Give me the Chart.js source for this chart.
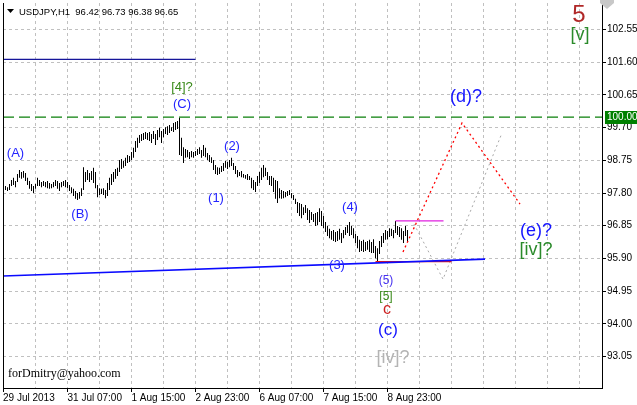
<!DOCTYPE html>
<html lang="pt-BR">
<head>
<meta charset="utf-8">
<title>USDJPY H1</title>
<script src="https://cdn.jsdelivr.net/npm/chart.js@4.4.1/dist/chart.umd.min.js"></script>
<style>
  html, body { margin: 0; padding: 0; background: #fff; }
  canvas { display: block; }
</style>
</head>
<body>
<canvas id="grafico" width="637" height="405"></canvas>
<script>
/* ============================================================
DADOS — USDJPY, H1 (uma barra por hora)
============================================================ */

const maximas = [
  98.00, 97.97, 98.06, 98.18, 98.24, 98.15, 98.35, 98.47, 98.41, 98.44,
  98.38, 98.24, 98.15, 98.06, 98.00, 98.06, 98.24, 98.18, 98.12, 98.15,
  98.12, 98.15, 98.09, 98.06, 98.12, 98.18, 98.15, 98.09, 98.12, 98.15,
  98.18, 98.12, 98.03, 97.97, 97.92, 97.86, 97.80, 97.83, 97.94, 98.55,
  98.41, 98.47, 98.38, 98.44, 98.53, 98.41, 98.03, 97.94, 97.92, 97.94,
  97.89, 98.09, 98.24, 98.35, 98.41, 98.50, 98.53, 98.76, 98.79, 98.73,
  98.82, 98.90, 98.87, 98.99, 99.11, 99.31, 99.40, 99.48, 99.51, 99.54,
  99.57, 99.54, 99.57, 99.51, 99.60, 99.51, 99.63, 99.69, 99.60, 99.66,
  99.71, 99.74, 99.77, 99.71, 99.83, 99.86, 99.89, 99.98, 99.40, 99.13,
  99.08, 99.05, 98.99, 99.02, 98.99, 99.02, 99.08, 99.13, 99.05, 99.19,
  99.11, 98.96, 98.90, 98.84, 98.76, 98.61, 98.55, 98.53, 98.58, 98.67,
  98.73, 98.70, 98.76, 98.82, 98.67, 98.58, 98.47, 98.41, 98.44, 98.35,
  98.32, 98.35, 98.29, 98.24, 98.18, 98.12, 98.29, 98.41, 98.53, 98.61,
  98.53, 98.41, 98.29, 98.29, 98.24, 98.18, 98.15, 97.94, 97.89, 97.86,
  97.83, 97.86, 97.89, 97.80, 97.74, 97.63, 97.54, 97.51, 97.48, 97.39,
  97.45, 97.36, 97.31, 97.25, 97.19, 97.22, 97.25, 97.36, 97.28, 97.13,
  96.96, 96.84, 96.76, 96.70, 96.73, 96.67, 96.70, 96.76, 96.64, 96.73,
  96.81, 96.87, 96.96, 96.84, 96.78, 96.61, 96.55, 96.44, 96.41, 96.44,
  96.38, 96.41, 96.44, 96.38, 96.46, 96.26, 96.20, 96.41, 96.55, 96.64,
  96.73, 96.70, 96.78, 96.76, 96.73, 96.99, 96.84, 96.81, 96.78, 96.70,
  96.84, 96.73
];

const minimas = [
  97.89, 97.86, 97.89, 98.00, 98.03, 97.97, 98.12, 98.24, 98.21, 98.24,
  98.15, 98.03, 97.92, 97.86, 97.80, 97.92, 98.00, 98.00, 97.97, 98.00,
  97.97, 97.94, 97.92, 97.94, 97.97, 98.00, 97.92, 97.86, 97.97, 98.00,
  97.97, 97.94, 97.86, 97.80, 97.71, 97.63, 97.60, 97.63, 97.71, 97.89,
  98.12, 98.18, 98.12, 98.18, 98.09, 97.94, 97.68, 97.74, 97.77, 97.74,
  97.65, 97.71, 97.89, 98.03, 98.12, 98.21, 98.29, 98.41, 98.50, 98.53,
  98.58, 98.67, 98.70, 98.76, 98.82, 98.99, 99.11, 99.25, 99.31, 99.34,
  99.37, 99.34, 99.31, 99.25, 99.37, 99.19, 99.34, 99.42, 99.25, 99.42,
  99.51, 99.48, 99.54, 99.60, 99.57, 99.63, 99.66, 98.90, 98.87, 98.67,
  98.82, 98.84, 98.79, 98.84, 98.82, 98.87, 98.90, 98.93, 98.82, 98.87,
  98.84, 98.76, 98.70, 98.67, 98.47, 98.35, 98.32, 98.35, 98.41, 98.44,
  98.53, 98.50, 98.55, 98.58, 98.47, 98.35, 98.26, 98.29, 98.26, 98.24,
  98.21, 98.18, 98.18, 97.94, 97.89, 97.83, 98.00, 98.09, 98.18, 98.26,
  98.29, 98.18, 98.03, 98.00, 97.83, 97.63, 97.51, 97.65, 97.63, 97.65,
  97.68, 97.71, 97.74, 97.65, 97.60, 97.48, 97.22, 97.13, 97.07, 97.16,
  97.22, 97.02, 96.93, 97.02, 96.96, 96.84, 96.87, 96.96, 96.84, 96.78,
  96.67, 96.55, 96.49, 96.44, 96.41, 96.38, 96.41, 96.44, 96.35, 96.49,
  96.58, 96.64, 96.55, 96.58, 96.49, 96.35, 96.20, 96.09, 96.12, 96.09,
  96.12, 96.15, 96.09, 96.06, 96.06, 95.91, 95.80, 96.03, 96.23, 96.35,
  96.44, 96.46, 96.52, 96.55, 96.49, 96.64, 96.58, 96.52, 96.44, 96.35,
  96.55, 96.38
];

const barras = maximas.map((_, k) => k + 1);

const precosEixo = [102.55, 101.60, 100.65, 99.70, 98.75, 97.80, 96.85, 95.90, 94.95, 94.00, 93.05];
const gradeTempo = [-0.25, 16, 32, 48, 64, 80, 96, 112, 128, 144, 160, 176, 192, 208, 224, 240, 256, 272, 288];
const posRotulosTempo = [-0.25, 32, 64, 96, 128, 160, 192];
const rotulosTempo = ["29 Jul 2013", "31 Jul 07:00", "1 Aug 15:00", "2 Aug 23:00", "6 Aug 07:00", "7 Aug 15:00", "8 Aug 23:00"];

const cabecalho = "USDJPY,H1  96.42 96.73 96.38 96.65";
const assinatura = "forDmitry@yahoo.com";

/* linhas desenhadas no gráfico (barra, preço) */
const nivel100X = [-0.25, 299.25];
const nivel100Y = [100.00, 100.00];
const resistenciaX = [-0.25, 96];
const resistenciaY = [101.68, 101.68];
const suporteX = [-0.25, 240.75];
const suporteY = [95.39, 95.88];
const minimoX = [186, 224];
const minimoY = [95.81, 95.81];
const maximoX = [196, 220];
const maximoY = [96.99, 96.99];
const cenarioVermelhoX = [199.75, 229.25, 258.25];
const cenarioVermelhoY = [96.09, 99.83, 97.48];
const cenarioCinzaX = [205.25, 219.75, 249.25];
const cenarioCinzaY = [96.90, 95.30, 99.54];

/* marcação das ondas */
const rotulos = [
  { texto: "(A)", barra: 6, preco: 98.96, tipo: "onda" },
  { texto: "(B)", barra: 38.25, preco: 97.19, tipo: "onda" },
  { texto: "(C)", barra: 89.25, preco: 100.38, tipo: "onda" },
  { texto: "[4]?", barra: 89.25, preco: 100.85, tipo: "verde" },
  { texto: "(1)", barra: 106.25, preco: 97.65, tipo: "onda" },
  { texto: "(2)", barra: 114.25, preco: 99.16, tipo: "onda" },
  { texto: "(3)", barra: 166.75, preco: 95.71, tipo: "onda" },
  { texto: "(4)", barra: 173.25, preco: 97.39, tipo: "onda" },
  { texto: "(5)", barra: 191.25, preco: 95.25, tipo: "ondaMenor" },
  { texto: "[5]", barra: 191.25, preco: 94.78, tipo: "verdeMenor" },
  { texto: "c", barra: 191.75, preco: 94.42, tipo: "vermelho" },
  { texto: "(c)", barra: 192.25, preco: 93.82, tipo: "ondaMaior" },
  { texto: "[iv]?", barra: 194.75, preco: 93.01, tipo: "cinza" },
  { texto: "(d)?", barra: 231.25, preco: 100.59, tipo: "ondaGrande" },
  { texto: "(e)?", barra: 266.25, preco: 96.70, tipo: "ondaGrande" },
  { texto: "[iv]?", barra: 266.25, preco: 96.15, tipo: "verdeGrande" },
  { texto: "5", barra: 287.75, preco: 102.95, tipo: "ciclo" },
  { texto: "[v]", barra: 288.25, preco: 102.38, tipo: "verdeGrande" },
];

/* ============================================================
ESTILOS
============================================================ */

const FONTE = "'Liberation Sans', Arial, sans-serif";

const estilosRotulo = {
  onda: { fonte: `13px ${FONTE}`, cor: "#2424ff" },
  ondaMenor: { fonte: `12px ${FONTE}`, cor: "#4630f0" },
  ondaMaior: { fonte: `17px ${FONTE}`, cor: "#1414ff" },
  ondaGrande: { fonte: `18px ${FONTE}`, cor: "#1414ff" },
  verde: { fonte: `13px ${FONTE}`, cor: "#3a8a1a" },
  verdeMenor: { fonte: `12px ${FONTE}`, cor: "#3a8a1a" },
  verdeGrande: { fonte: `18px ${FONTE}`, cor: "#2a8a2a" },
  vermelho: { fonte: `16px ${FONTE}`, cor: "#cc2020" },
  cinza: { fonte: `18px ${FONTE}`, cor: "#b4b4b4" },
  ciclo: { fonte: `24px ${FONTE}`, cor: "#b02828" },
};

function pares(xs, ys) {
  return xs.map((x, k) => ({ x: x, y: ys[k] }));
}

function linha(xs, ys, cor, largura, tracejado) {
  return {
    type: "line",
    data: pares(xs, ys),
    borderColor: cor,
    borderWidth: largura,
    borderDash: tracejado || [],
    pointRadius: 0,
    fill: false,
    tension: 0,
  };
}

/* ============================================================
PLUGIN — TEXTOS E MOLDURA
============================================================ */

const textosPlugin = {
  id: "textos",

  afterDatasetsDraw(chart) {
    const { ctx } = chart;
    const x = chart.scales.x;
    const y = chart.scales.y;

    ctx.save();
    ctx.textAlign = "center";
    ctx.textBaseline = "middle";

    rotulos.forEach((r) => {
      const estilo = estilosRotulo[r.tipo];
      ctx.font = estilo.fonte;
      ctx.fillStyle = estilo.cor;
      ctx.fillText(r.texto, x.getPixelForValue(r.barra), y.getPixelForValue(r.preco));
    });

    ctx.restore();
  },

  afterDraw(chart) {
    const { ctx, chartArea } = chart;
    const y = chart.scales.y;

    ctx.save();

    /* moldura esquerda */
    ctx.fillStyle = "#000";
    ctx.fillRect(chartArea.left, chartArea.top, 1, chartArea.bottom - chartArea.top);

    /* cabeçalho */
    ctx.beginPath();
    ctx.moveTo(7, 9);
    ctx.lineTo(14, 9);
    ctx.lineTo(10.5, 13);
    ctx.closePath();
    ctx.fill();

    ctx.font = `9.5px ${FONTE}`;
    ctx.textAlign = "left";
    ctx.textBaseline = "alphabetic";
    ctx.fillText(cabecalho, 19, 15);

    /* marcador de deslocamento (topo, à direita) */
    ctx.fillStyle = "#c8c8c8";
    ctx.beginPath();
    ctx.moveTo(chartArea.right - 2, 0);
    ctx.lineTo(chartArea.right + 12, 0);
    ctx.lineTo(chartArea.right + 12, 3);
    ctx.lineTo(chartArea.right + 5, 9);
    ctx.lineTo(chartArea.right - 2, 3);
    ctx.closePath();
    ctx.fill();

    /* assinatura */
    ctx.fillStyle = "#000";
    ctx.font = "12px 'Liberation Serif', 'Times New Roman', serif";
    ctx.textBaseline = "middle";
    ctx.fillText(assinatura, 8, 374);

    /* etiqueta do nível 100.00 */
    const py = Math.round(y.getPixelForValue(nivel100Y[0]));
    ctx.fillStyle = "#008000";
    ctx.fillRect(chartArea.right + 3, py - 6, 32, 13);
    ctx.fillStyle = "#fff";
    ctx.font = `10px ${FONTE}`;
    ctx.fillText(nivel100Y[0].toFixed(2), chartArea.right + 5, py + 0.5);

    ctx.restore();
  },
};

/* ============================================================
GRÁFICO
============================================================ */

const canvas = document.getElementById("grafico");

new Chart(canvas, {
  type: "bar",
  data: {
    datasets: [
      linha(nivel100X, nivel100Y, "#0a800a", 1.3, [11, 5]),
      linha(resistenciaX, resistenciaY, "#16169a", 1.3),
      linha(suporteX, suporteY, "#0a0aff", 1.6),
      linha(minimoX, minimoY, "#e01818", 1.3),
      linha(maximoX, maximoY, "#e020e0", 1.3),
      linha(cenarioVermelhoX, cenarioVermelhoY, "#ff0000", 1.3, [2, 3]),
      linha(cenarioCinzaX, cenarioCinzaY, "#a8a8a8", 1, [2, 3]),
      {
        type: "bar",
        data: barras.map((b, k) => ({ x: b, y: [minimas[k], maximas[k]] })),
        backgroundColor: "#000",
        borderWidth: 0,
        barThickness: 1,
        inflateAmount: 0,
        grouped: false,
      },
    ],
  },

  options: {
    responsive: false,
    devicePixelRatio: 1,
    animation: false,
    events: [],

    layout: {
      padding: { top: 3, left: 3, right: 0, bottom: 0 },
    },

    plugins: {
      legend: { display: false },
      tooltip: { enabled: false },
    },

    scales: {
      x: {
        type: "linear",
        offset: false,
        min: -0.25,
        max: 299.25,
        afterBuildTicks(scale) {
          scale.ticks = gradeTempo.map((v) => ({ value: v }));
        },
        afterFit(scale) {
          scale.height = 17;
          scale.paddingLeft = 0;
          scale.paddingRight = 0;
        },
        grid: {
          offset: false,
          color: (c) => (c.tick && c.tick.value < 0 ? "rgba(0,0,0,0)" : "#c0c0c0"),
          lineWidth: 1,
          drawTicks: true,
          tickLength: 4,
          tickColor: (c) => (c.tick && posRotulosTempo.includes(c.tick.value) ? "#000" : "rgba(0,0,0,0)"),
        },
        border: { display: true, color: "#000", width: 1, dash: [3, 3] },
        ticks: {
          autoSkip: false,
          maxRotation: 0,
          minRotation: 0,
          align: "start",
          padding: 0,
          color: "#000",
          font: { family: FONTE, size: 10 },
          callback: (v) => {
            const k = posRotulosTempo.indexOf(v);
            return k >= 0 ? rotulosTempo[k] : "";
          },
        },
      },

      y: {
        type: "linear",
        position: "right",
        min: 92.142,
        max: 103.313,
        afterBuildTicks(scale) {
          scale.ticks = precosEixo.map((v) => ({ value: v }));
        },
        afterFit(scale) {
          scale.width = 35;
          scale.paddingTop = 0;
          scale.paddingBottom = 0;
        },
        grid: {
          color: "#c0c0c0",
          lineWidth: 1,
          drawTicks: true,
          tickLength: 4,
          tickColor: "#000",
        },
        border: { display: true, color: "#000", width: 1, dash: [3, 3] },
        ticks: {
          padding: 1,
          color: "#000",
          font: { family: FONTE, size: 10 },
          callback: (v) => v.toFixed(2),
        },
      },
    },
  },

  plugins: [textosPlugin],
});
</script>
</body>
</html>
